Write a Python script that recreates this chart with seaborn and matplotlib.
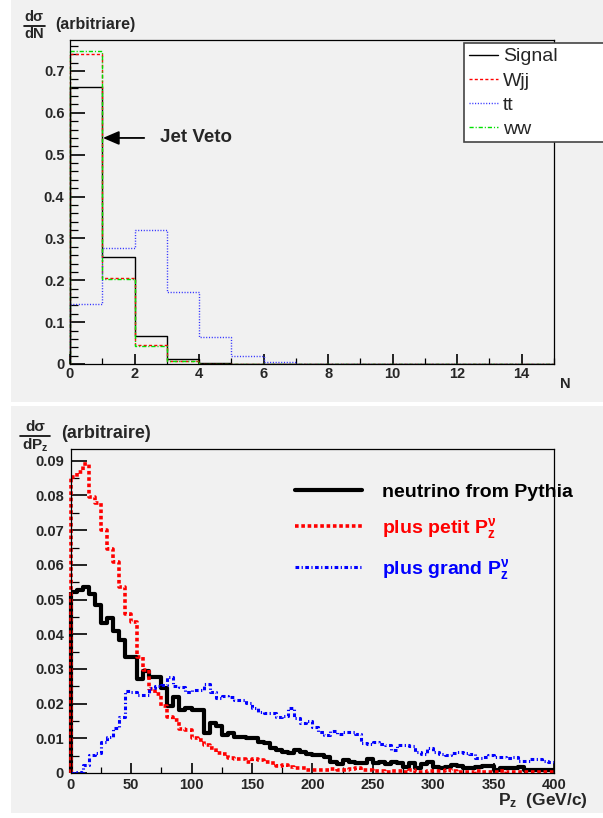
import numpy as np
import pandas as pd
import matplotlib
matplotlib.use("Agg")
import matplotlib.pyplot as plt
import seaborn as sns
from matplotlib.ticker import MultipleLocator, FuncFormatter
from matplotlib.lines import Line2D
from matplotlib.patches import Rectangle

# ---- jet multiplicity (N = 0..14, unit bins) ----
n_edges = np.arange(0, 16)
signal = [0.661, 0.255, 0.068, 0.012, 0.002, 0, 0, 0, 0, 0, 0, 0, 0, 0, 0]
wjj = [0.740, 0.206, 0.046, 0.008, 0.001, 0, 0, 0, 0, 0, 0, 0, 0, 0, 0]
tt = [0.144, 0.277, 0.319, 0.171, 0.064, 0.019, 0.005, 0.001, 0, 0, 0, 0, 0, 0, 0]
ww = [0.748, 0.202, 0.043, 0.006, 0.001, 0, 0, 0, 0, 0, 0, 0, 0, 0, 0]
top_labels = ["Signal", "Wjj", "tt", "ww"]

# ---- neutrino Pz (0..400 GeV/c, 5 GeV/c bins) ----
pz_edges = np.arange(0, 405, 5)
nu_pythia = [
    0.0522, 0.0528, 0.0537, 0.0516, 0.0483, 0.0433, 0.0446, 0.0408, 0.0382, 0.0334,
    0.0334, 0.0272, 0.0295, 0.0278, 0.0278, 0.0246, 0.0193, 0.0220, 0.0182, 0.0186,
    0.0182, 0.0182, 0.0114, 0.0143, 0.0135, 0.0109, 0.0116, 0.0105, 0.0105, 0.0100,
    0.0100, 0.0090, 0.0086, 0.0071, 0.0066, 0.0060, 0.0059, 0.0066, 0.0061, 0.0055,
    0.0053, 0.0053, 0.0045, 0.0033, 0.0026, 0.0037, 0.0033, 0.0028, 0.0030, 0.0039,
    0.0028, 0.0033, 0.0025, 0.0033, 0.0028, 0.0018, 0.0028, 0.0015, 0.0026, 0.0033,
    0.0018, 0.0015, 0.0018, 0.0023, 0.0021, 0.0013, 0.0013, 0.0018, 0.0020, 0.0020,
    0.0009, 0.0013, 0.0013, 0.0015, 0.0018, 0.0009, 0.0008, 0.0008, 0.0008, 0.0008,
]
nu_petit = [
    0.0854, 0.0868, 0.0892, 0.0796, 0.0777, 0.0700, 0.0645, 0.0609, 0.0537, 0.0458,
    0.0435, 0.0333, 0.0298, 0.0241, 0.0228, 0.0192, 0.0161, 0.0154, 0.0128, 0.0124,
    0.0101, 0.0094, 0.0080, 0.0071, 0.0057, 0.0054, 0.0042, 0.0040, 0.0040, 0.0033,
    0.0040, 0.0037, 0.0033, 0.0028, 0.0021, 0.0023, 0.0018, 0.0013, 0.0013, 0.0009,
    0.0009, 0.0008, 0.0009, 0.0011, 0.0008, 0.0009, 0.0011, 0.0013, 0.0009, 0.0009,
    0.0005, 0.0005, 0.0003, 0.0005, 0.0005, 0.0003, 0.0008, 0.0003, 0.0002, 0.0005,
    0.0005, 0.0005, 0.0008, 0.0005, 0.0003, 0.0003, 0.0002, 0.0005, 0.0003, 0.0002,
    0.0002, 0.0005, 0.0003, 0.0003, 0.0002, 0.0003, 0.0002, 0.0002, 0.0003, 0.0002,
]
nu_grand = [
    0.0001, 0.0004, 0.0023, 0.0052, 0.0057, 0.0090, 0.0105, 0.0129, 0.0160, 0.0237,
    0.0234, 0.0225, 0.0224, 0.0244, 0.0251, 0.0254, 0.0276, 0.0251, 0.0247, 0.0234,
    0.0239, 0.0239, 0.0256, 0.0234, 0.0215, 0.0222, 0.0220, 0.0210, 0.0210, 0.0201,
    0.0186, 0.0177, 0.0172, 0.0172, 0.0162, 0.0164, 0.0186, 0.0158, 0.0143, 0.0151,
    0.0133, 0.0117, 0.0109, 0.0122, 0.0113, 0.0118, 0.0118, 0.0111, 0.0086, 0.0084,
    0.0088, 0.0084, 0.0081, 0.0066, 0.0081, 0.0081, 0.0078, 0.0061, 0.0055, 0.0071,
    0.0061, 0.0056, 0.0052, 0.0058, 0.0061, 0.0058, 0.0056, 0.0044, 0.0046, 0.0052,
    0.0046, 0.0045, 0.0042, 0.0046, 0.0035, 0.0036, 0.0039, 0.0039, 0.0036, 0.0033,
]
bottom_labels = ["neutrino from Pythia", r"plus petit P$_{z}^{\nu}$", r"plus grand P$_{z}^{\nu}$"]

sns.set_theme(style="ticks")
plt.rcParams["font.family"] = ["Liberation Sans", "DejaVu Sans"]
plt.rcParams["mathtext.fontset"] = "custom"
plt.rcParams["mathtext.rm"] = "Liberation Sans:bold"
plt.rcParams["mathtext.bf"] = "Liberation Sans:bold"
plt.rcParams["mathtext.it"] = "Liberation Sans:bold"
plt.rcParams["mathtext.default"] = "bf"

W, H = 603, 818
PANEL = "#f1f1f1"
fig = plt.figure(figsize=(W / 100, H / 100), dpi=100, facecolor="white")


def fx(px):
    return px / W


def fy(py):
    return 1 - py / H


# canvas pads
fig.patches.append(Rectangle((fx(11), fy(402)), 1, 402 / H, transform=fig.transFigure,
                             facecolor=PANEL, edgecolor="none", zorder=-10))
fig.patches.append(Rectangle((fx(11), fy(813)), 1, (813 - 406) / H, transform=fig.transFigure,
                             facecolor=PANEL, edgecolor="none", zorder=-10))


def style_axes(ax):
    ax.set_facecolor(PANEL)
    for s in ax.spines.values():
        s.set_visible(True)
        s.set_color("black")
        s.set_linewidth(0.9)


def draw_hist(ax, edges, values, **kw):
    centers = (edges[:-1] + edges[1:]) / 2
    df = pd.DataFrame({"x": centers, "w": values})
    width = float(edges[1] - edges[0])
    sns.histplot(data=df, x="x", weights="w", binwidth=width,
                 binrange=(float(edges[0]), float(edges[-1])),
                 element="step", fill=False, ax=ax, **kw)
    # rising edge of the first bin
    ax.vlines(edges[0], 0, values[0], clip_on=False, **kw)


zero_fmt = FuncFormatter(lambda v, p: "0" if abs(v) < 1e-12 else f"{v:g}")

# ================= top panel =================
ax1 = fig.add_axes([fx(70), fy(364), fx(554) - fx(70), (364 - 40) / H])
style_axes(ax1)
top_styles = [
    dict(color="black", linewidth=1.0, linestyle="-"),
    dict(color="#ff0000", linewidth=1.0, linestyle=(0, (2.2, 1.6))),
    dict(color="#3030ff", linewidth=1.0, linestyle=(0, (0.8, 1.2))),
    dict(color="#00e000", linewidth=1.0, linestyle=(0, (3, 1.4, 0.8, 1.4))),
]
for vals, st in zip([signal, wjj, tt, ww], top_styles):
    draw_hist(ax1, n_edges, vals, **st)
ax1.set_xlabel("")
ax1.set_ylabel("")
ax1.set_xlim(0, 15)
ax1.set_ylim(0, 0.774)
ax1.xaxis.set_major_locator(MultipleLocator(2))
ax1.xaxis.set_minor_locator(MultipleLocator(1))
ax1.yaxis.set_major_locator(MultipleLocator(0.1))
ax1.yaxis.set_minor_locator(MultipleLocator(0.02))
ax1.xaxis.set_major_formatter(zero_fmt)
ax1.yaxis.set_major_formatter(zero_fmt)
ax1.tick_params(which="both", direction="in", top=False, right=False, color="black")
ax1.tick_params(axis="y", which="major", length=11, width=1.2, pad=4)
ax1.tick_params(axis="y", which="minor", length=5.5, width=0.9)
ax1.tick_params(axis="x", which="major", length=7.5, width=1.2, pad=2)
ax1.tick_params(axis="x", which="minor", length=4, width=0.9)
for lab in ax1.get_xticklabels() + ax1.get_yticklabels():
    lab.set_fontsize(10.5)
    lab.set_fontweight("bold")

ax1.annotate("", xy=(1.02, 0.54), xytext=(2.3, 0.54),
             arrowprops=dict(arrowstyle="-|>,head_length=0.7,head_width=0.3",
                             color="black", lw=1.3, mutation_scale=14, shrinkA=0, shrinkB=0))
ax1.text(2.8, 0.54, "Jet Veto", fontsize=13.5, fontweight="bold", va="center", ha="left")

top_handles = [Line2D([], [], **st) for st in top_styles]
leg1 = fig.legend(top_handles, top_labels, loc="upper left",
                  bbox_to_anchor=(fx(464), fy(141), fx(625) - fx(464), (141 - 43) / H),
                  bbox_transform=fig.transFigure, mode="expand", fontsize=14,
                  frameon=True, fancybox=False, framealpha=1, edgecolor="#444444",
                  facecolor="white", handlelength=1.5, handletextpad=0.25,
                  labelspacing=0.33, borderpad=0.25, borderaxespad=0)
leg1.get_frame().set_linewidth(1.2)

# axis titles (top)
fig.text(fx(34), fy(17), "dσ", fontsize=10.5, fontweight="bold", ha="center", va="center")
fig.add_artist(Line2D([fx(24), fx(45)], [fy(25.5), fy(25.5)], color="black", lw=1.2,
                      transform=fig.transFigure))
fig.text(fx(34), fy(33.5), "dN", fontsize=10.5, fontweight="bold", ha="center", va="center")
fig.text(fx(55), fy(24), "(arbitriare)", fontsize=11.5, fontweight="bold", ha="left", va="center")
fig.text(fx(565), fy(384), "N", fontsize=10.5, fontweight="bold", ha="center", va="center")

# ================= bottom panel =================
ax2 = fig.add_axes([fx(70.7), fy(773), fx(554) - fx(70.7), (773 - 449) / H])
style_axes(ax2)
bottom_styles = [
    dict(color="black", linewidth=3.0, linestyle="-"),
    dict(color="#ff0000", linewidth=2.6, linestyle=(0, (1.0, 0.75))),
    dict(color="#0000ff", linewidth=2.2, linestyle=(0, (1.2, 0.8, 0.4, 0.8))),
]
for vals, st in zip([nu_pythia, nu_petit, nu_grand], bottom_styles):
    draw_hist(ax2, pz_edges, vals, **st)
ax2.set_xlabel("")
ax2.set_ylabel("")
ax2.set_xlim(0, 400)
ax2.set_ylim(0, 0.0934)
ax2.xaxis.set_major_locator(MultipleLocator(50))
ax2.xaxis.set_minor_locator(MultipleLocator(25))
ax2.yaxis.set_major_locator(MultipleLocator(0.01))
ax2.yaxis.set_minor_locator(MultipleLocator(0.005))
ax2.xaxis.set_major_formatter(zero_fmt)
ax2.yaxis.set_major_formatter(zero_fmt)
ax2.tick_params(which="both", direction="in", top=False, right=False, color="black")
ax2.tick_params(axis="y", which="major", length=11.5, width=1.2, pad=5)
ax2.tick_params(axis="y", which="minor", length=6, width=0.9)
ax2.tick_params(axis="x", which="major", length=7.5, width=1.2, pad=3.5)
ax2.tick_params(axis="x", which="minor", length=4, width=0.9)
for lab in ax2.get_xticklabels() + ax2.get_yticklabels():
    lab.set_fontsize(10.5)
    lab.set_fontweight("bold")

bottom_handles = [Line2D([], [], **st) for st in bottom_styles]
leg2 = ax2.legend(bottom_handles, bottom_labels, loc="center left",
                  bbox_to_anchor=(fx(295), fy(532.5)), bbox_transform=fig.transFigure,
                  frameon=False, handlelength=3.45, handletextpad=1.05,
                  labelspacing=0.8, borderpad=0, borderaxespad=0,
                  prop=dict(size=14, weight="bold"),
                  labelcolor=["black", "#ff0000", "#0000ff"])

fig.text(fx(35), fy(427), "dσ", fontsize=11, fontweight="bold", ha="center", va="center")
fig.add_artist(Line2D([fx(20), fx(50)], [fy(436), fy(436)], color="black", lw=1.2,
                      transform=fig.transFigure))
fig.text(fx(35), fy(445), r"dP$_{z}$", fontsize=11, fontweight="bold", ha="center", va="center")
fig.text(fx(61), fy(433), "(arbitraire)", fontsize=13, fontweight="bold", ha="left", va="center")
fig.text(fx(588), fy(801), r"P$_{z}$  (GeV/c)", fontsize=12.5, fontweight="bold",
         ha="right", va="center")

fig.savefig("out.png", dpi=100, facecolor="white")
